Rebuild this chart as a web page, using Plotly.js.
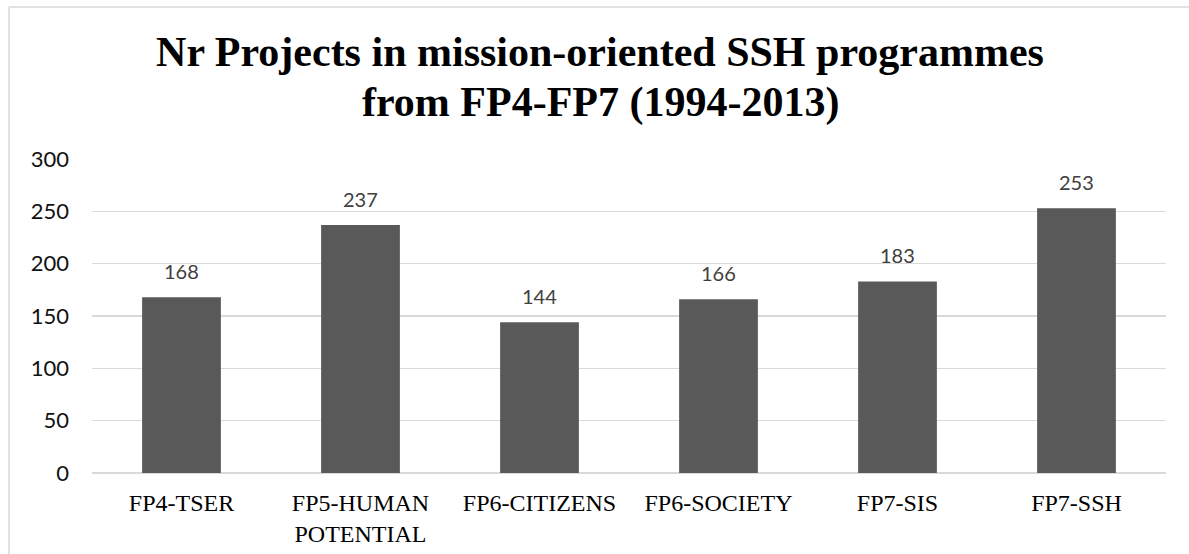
<!DOCTYPE html>
<html>
<head>
<meta charset="utf-8">
<script src="https://cdn.plot.ly/plotly-3.0.1.min.js"></script>
<style>
html,body{margin:0;padding:0;background:#fff;}
#chart{width:1189px;height:554px;}
</style>
</head>
<body>
<div id="chart"></div>
<script>
const categories = ["FP4-TSER", "FP5-HUMAN<br>POTENTIAL", "FP6-CITIZENS", "FP6-SOCIETY", "FP7-SIS", "FP7-SSH"];
const projects = [168, 237, 144, 166, 183, 253];
const yTicks = [0, 50, 100, 150, 200, 250, 300];
const titleLine1 = "Nr Projects in mission-oriented SSH programmes";
const titleLine2 = "from FP4-FP7 (1994-2013)";

const SERIF = "Liberation Serif, Times New Roman, serif";
const SANS = "Lato, Open Sans, sans-serif";
const titleFont = {family: SERIF, size: 42, color: "#000", weight: "bold"};

const trace = {
  type: "bar",
  x: categories,
  y: projects,
  marker: {color: "#595959", line: {width: 0}},
  hoverinfo: "x+y"
};

const annotations = categories.map((c, i) => ({
  x: c, y: projects[i], xref: "x", yref: "y",
  text: String(projects[i]),
  showarrow: false,
  yanchor: "middle",
  yshift: 26,
  font: {family: SANS, size: 20, color: "#404040"}
}));
annotations.push({
  text: titleLine2,
  xref: "paper", yref: "paper",
  x: (600 - 92) / 1074, xanchor: "center",
  y: (473 - 128) / 314, yanchor: "bottom",
  showarrow: false,
  font: titleFont
});

const layout = {
  width: 1189, height: 554,
  margin: {l: 92, r: 23, t: 159, b: 81},
  paper_bgcolor: "#fff",
  plot_bgcolor: "#fff",
  bargap: 0.56,
  showlegend: false,
  title: {
    text: titleLine1,
    font: titleFont,
    x: 600 / 1189, xref: "container", xanchor: "center",
    y: 1 - 37/554, yref: "container", yanchor: "top"
  },
  xaxis: {
    type: "category",
    showgrid: false,
    showline: false,
    zeroline: false,
    ticks: "",
    ticklabelstandoff: 13,
    tickfont: {family: SERIF, size: 24, color: "#000"}
  },
  yaxis: {
    range: [0, 300],
    tickvals: yTicks,
    ticktext: yTicks.map(String),
    showgrid: true,
    gridcolor: "#d9d9d9",
    gridwidth: 1.3,
    zeroline: true,
    zerolinecolor: "#d9d9d9",
    zerolinewidth: 1.3,
    showline: false,
    ticks: "",
    ticklabelstandoff: 22,
    tickfont: {family: SANS, size: 22, color: "#111"}
  },
  annotations: annotations,
  shapes: [
    {type: "line", xref: "paper", yref: "paper", layer: "below",
     x0: (9 - 92) / 1074, x1: (9 - 92) / 1074, y0: (473 - 7) / 314, y1: (473 - 560) / 314,
     line: {color: "#d9d9d9", width: 1.5}},
    {type: "line", xref: "paper", yref: "paper", layer: "below",
     x0: (9 - 92) / 1074, x1: (1195 - 92) / 1074, y0: (473 - 7) / 314, y1: (473 - 7) / 314,
     line: {color: "#d9d9d9", width: 1.5}}
  ]
};

Plotly.newPlot("chart", [trace], layout, {displayModeBar: false, staticPlot: true});
</script>
</body>
</html>
